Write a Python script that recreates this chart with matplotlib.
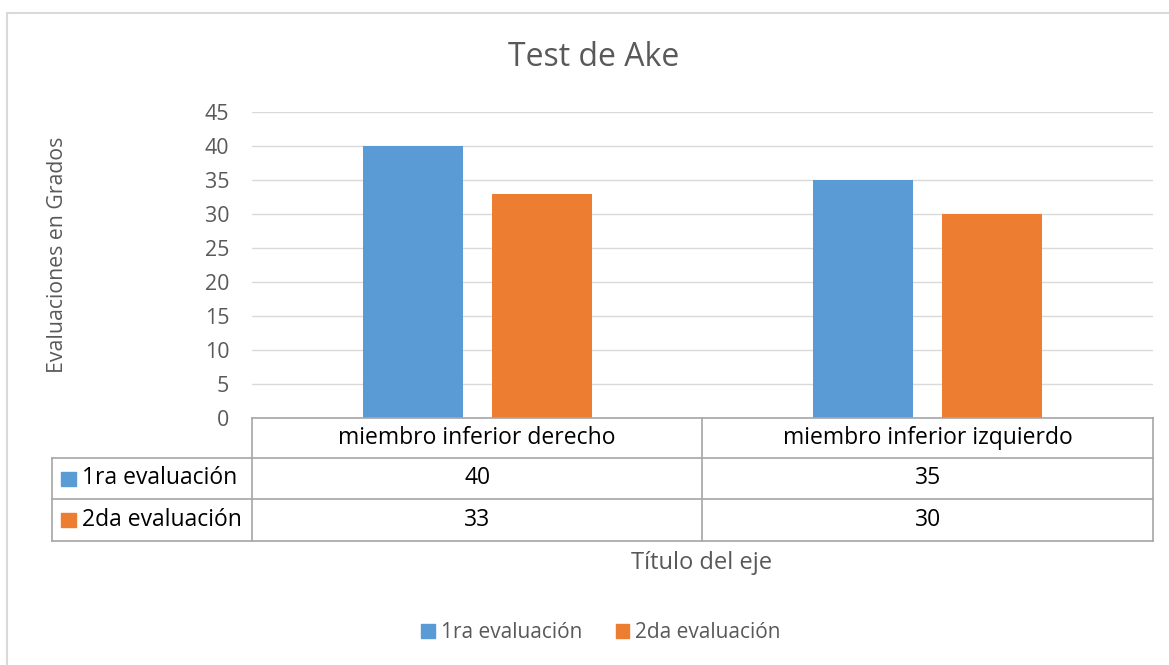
import matplotlib
matplotlib.use("Agg")
import matplotlib.pyplot as plt
import matplotlib.transforms as mtrans
from matplotlib.lines import Line2D
from matplotlib.patches import Patch, Rectangle
import numpy as np

# ---- data ----
categories = ["miembro inferior derecho", "miembro inferior izquierdo"]
series_names = ["1ra evaluación", "2da evaluación"]
eval1 = [40, 35]
eval2 = [33, 30]
yticks = [0, 5, 10, 15, 20, 25, 30, 35, 40, 45]
title = "Test de Ake"
ylabel = "Evaluaciones en Grados"
xlabel = "Título del eje"

colors = ["#5B9BD5", "#ED7D31"]
grey = "#595959"
FONT = "Open Sans"
plt.rcParams["font.family"] = [FONT, "DejaVu Sans"]

W, H = 1169, 665
fig = plt.figure(figsize=(W / 100, H / 100), dpi=100)

def fx(x):
    return x / W

def fy(y):
    return 1 - y / H

# chart border (left and top visible)
fig.add_artist(Line2D([fx(7), fx(7)], [fy(13), fy(670)], color="#d9d9d9", lw=1.5, transform=fig.transFigure))
fig.add_artist(Line2D([fx(7), fx(1175)], [fy(13), fy(13)], color="#d9d9d9", lw=1.5, transform=fig.transFigure))

ax_left, ax_right, ax_top, ax_bot = 252, 1153, 112, 418
ax = fig.add_axes([fx(ax_left), fy(ax_bot), fx(ax_right - ax_left), (ax_bot - ax_top) / H])

x = np.arange(len(categories))
bw = 0.222
off = 0.143
series = [eval1, eval2]
for i, (vals, c) in enumerate(zip(series, colors)):
    ax.bar(x + (-off if i == 0 else off), vals, width=bw, color=c, zorder=3)

ax.set_xlim(-0.5, len(categories) - 0.5)
ax.set_ylim(0, 45)
ax.set_yticks(yticks)
ax.set_yticklabels([str(t) for t in yticks])
ax.set_xticks([])
ax.grid(axis="y", color="#d9d9d9", lw=1, zorder=0)
for s in ax.spines.values():
    s.set_visible(False)
ax.tick_params(axis="y", length=0, pad=16.5, labelsize=15.4, labelcolor=grey)

# title and axis titles
fig.text(fx(594), fy(58), title, ha="center", va="center", fontsize=23, color=grey)
fig.text(fx(58), fy(255), ylabel, ha="center", va="center", rotation=90, fontsize=15.3, color=grey)
fig.text(fx(702), fy(563), xlabel, ha="center", va="center", fontsize=17, color=grey)

# data table
tc = "#a6a6a6"
lw = 1.2
def hline(y, x0, x1):
    fig.add_artist(Line2D([fx(x0), fx(x1)], [fy(y), fy(y)], color=tc, lw=lw, transform=fig.transFigure))
def vline(x0, y0, y1):
    fig.add_artist(Line2D([fx(x0), fx(x0)], [fy(y0), fy(y1)], color=tc, lw=lw, transform=fig.transFigure))

row_y = [418, 458, 499, 541]
hline(row_y[0], ax_left, ax_right)
for y in row_y[1:]:
    hline(y, 52, ax_right)
vline(52, row_y[1], row_y[3])
vline(ax_left, row_y[0], row_y[3])
vline(702, row_y[0], row_y[3])
vline(ax_right, row_y[0], row_y[3])

tfs = 16.5
trans_col = mtrans.blended_transform_factory(ax.transData, fig.transFigure)
for xi, cat in zip(x, categories):
    ax.text(xi, fy((row_y[0] + row_y[1]) / 2), cat, transform=trans_col, ha="center", va="center",
            fontsize=tfs, color="black", clip_on=False)
for r, (name, vals, c) in enumerate(zip(series_names, series, colors)):
    yc = (row_y[r + 1] + row_y[r + 2]) / 2
    fig.add_artist(Rectangle((fx(61), fy(yc + 7)), fx(15), 14 / H, color=c, transform=fig.transFigure))
    fig.text(fx(82), fy(yc), name, ha="left", va="center", fontsize=tfs, color="black")
    for xi, v in zip(x, vals):
        ax.text(xi, fy(yc), str(v), transform=trans_col, ha="center", va="center",
                fontsize=tfs, color="black", clip_on=False)

# legend
handles = [Patch(color=c, label=n) for c, n in zip(colors, series_names)]
leg = fig.legend(handles=handles, loc="center", bbox_to_anchor=(fx(601), fy(633)), ncol=2,
                 frameon=False, fontsize=15, handlelength=0.65, handleheight=0.65,
                 handletextpad=0.3, columnspacing=1.6)
for t in leg.get_texts():
    t.set_color(grey)

fig.savefig("out.png", dpi=100)
